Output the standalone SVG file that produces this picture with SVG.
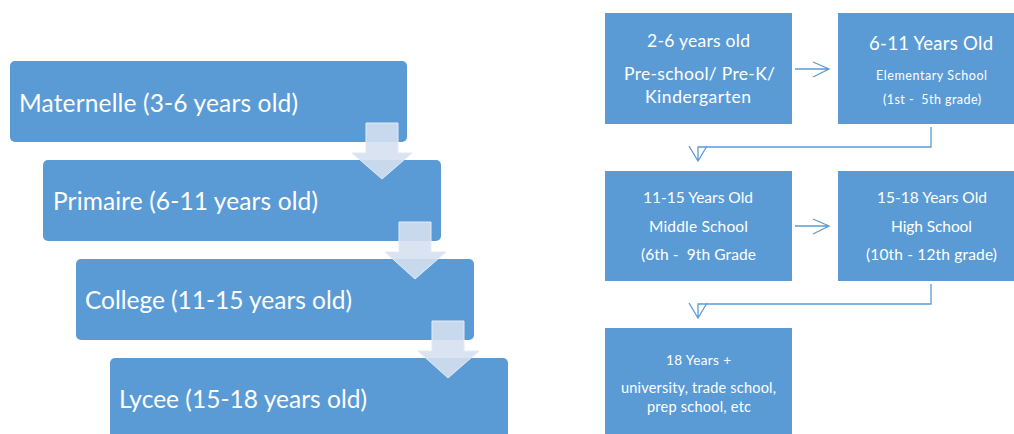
<svg xmlns="http://www.w3.org/2000/svg" width="1014" height="434" viewBox="0 0 1014 434">
<style>
.lb{fill:#5B9BD5;}
.rb{fill:#5B9BD5;}
.dn{fill:#D5E0F0;fill-opacity:0.9;stroke:#E3EAF5;stroke-width:1;}
.t{font-family:Lato,"Liberation Sans",sans-serif;fill:#FFFFFF;white-space:pre;}
.big{font-size:24.5px;}
.c{text-anchor:middle;}
.con{fill:none;stroke:#5B9BD5;stroke-width:1.3;}
</style>
<rect width="1014" height="434" fill="#FFFFFF"/>
<g id="maternelle"><rect class="lb" x="10" y="61" width="397" height="81" rx="5"/><text class="t big" x="19" y="112" textLength="279">Maternelle (3-6 years old)</text></g>
<g id="primaire"><rect class="lb" x="43" y="160" width="398" height="81" rx="5"/><text class="t big" x="53" y="210" textLength="265">Primaire (6-11 years old)</text></g>
<g id="college"><rect class="lb" x="76" y="259" width="398" height="81" rx="5"/><text class="t big" x="85" y="309" textLength="267">College (11-15 years old)</text></g>
<g id="lycee"><rect class="lb" x="110" y="358" width="398" height="90" rx="5"/><text class="t big" x="119" y="408" textLength="248">Lycee (15-18 years old)</text></g>
<g id="down-arrows">
<path class="dn" d="M366,123 H398 V153 H412 L382,179 L352,153 H366 Z"/>
<path class="dn" d="M399,222 H431 V252 H446 L415,279 L385,252 H399 Z"/>
<path class="dn" d="M432,321 H464 V351 H479 L448,378 L418,351 H432 Z"/>
</g>
<g id="preschool"><rect class="rb" x="605" y="13" width="187" height="111"/>
<text class="t c" x="698.5" y="47" font-size="17.5" textLength="103">2-6 years old</text>
<text class="t c" x="699.5" y="80" font-size="17.5" textLength="151">Pre-school/ Pre-K/</text>
<text class="t c" x="698" y="103" font-size="17.5" textLength="106">Kindergarten</text></g>
<g id="elementary"><rect class="rb" x="838" y="13" width="176" height="111"/>
<text class="t c" x="931" y="50" font-size="18.5" textLength="124">6-11 Years Old</text>
<text class="t c" x="931.5" y="80" font-size="12.5" textLength="111">Elementary School</text>
<text class="t c" x="932" y="104" font-size="12.5" textLength="98">(1st -  5th grade)</text></g>
<g id="middle"><rect class="rb" x="605" y="171" width="187" height="110"/>
<text class="t c" x="698" y="203" font-size="15.5" textLength="110">11-15 Years Old</text>
<text class="t c" x="698.5" y="232" font-size="15.5" textLength="99">Middle School</text>
<text class="t c" x="698.5" y="260" font-size="15.5" textLength="115">(6th -  9th Grade</text></g>
<g id="high"><rect class="rb" x="838" y="171" width="176" height="110"/>
<text class="t c" x="932" y="203" font-size="15.5" textLength="110">15-18 Years Old</text>
<text class="t c" x="931.5" y="232" font-size="15.5" textLength="81">High School</text>
<text class="t c" x="931.5" y="260" font-size="15.5" textLength="131">(10th - 12th grade)</text></g>
<g id="university"><rect class="rb" x="605" y="328" width="187" height="110"/>
<text class="t c" x="698.5" y="365" font-size="13.5" textLength="65">18 Years +</text>
<text class="t c" x="698.5" y="393" font-size="14.5" textLength="155">university, trade school,</text>
<text class="t c" x="699" y="412" font-size="14.5" textLength="104">prep school, etc</text></g>
<g id="connectors">
<path class="con" d="M795,69 H829 M813,62 L829,69 L813,77"/>
<path class="con" d="M931,127 V147 H698 V161 M689,146 L698,161 L707,146"/>
<path class="con" d="M795,226 H829 M813,219 L829,226 L813,234"/>
<path class="con" d="M931,284 V304 H698 V318 M689,303 L698,318 L707,303"/>
</g>
</svg>
